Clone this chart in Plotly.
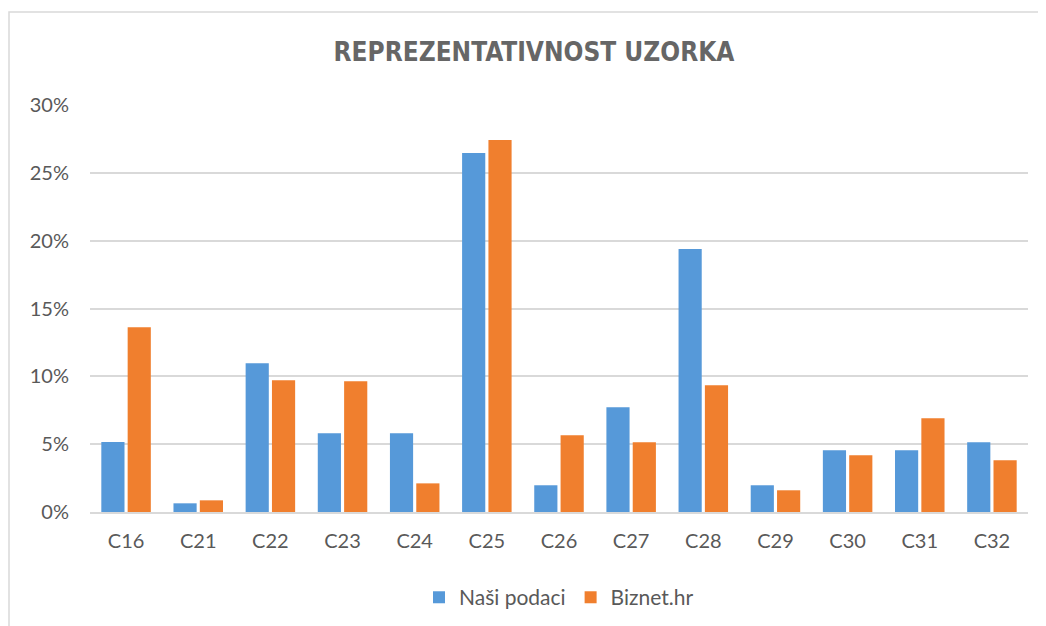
import plotly.graph_objects as go

categories = ["C16", "C21", "C22", "C23", "C24", "C25", "C26", "C27", "C28", "C29", "C30", "C31", "C32"]
nasi_podaci = [0.0516, 0.0064, 0.1097, 0.0580, 0.0580, 0.2646, 0.0197, 0.0772, 0.1938, 0.0197, 0.0455, 0.0455, 0.0514]
biznet_hr = [0.1362, 0.0086, 0.0971, 0.0964, 0.0211, 0.2742, 0.0566, 0.0514, 0.0934, 0.0160, 0.0418, 0.0691, 0.0381]
y_ticks = [0, 0.05, 0.10, 0.15, 0.20, 0.25, 0.30]

BLUE = "#5699d9"
ORANGE = "#f07f2e"
GREY = "#595959"
FONT = "Lato"

fig = go.Figure()
fig.add_trace(go.Bar(x=categories, y=nasi_podaci, name="Naši podaci", marker=dict(color=BLUE, line=dict(width=0))))
fig.add_trace(go.Bar(x=categories, y=biznet_hr, name="Biznet.hr", marker=dict(color=ORANGE, line=dict(width=0))))

# page body adds ~8px offset, margins compensate for it
fig.update_layout(
    width=1046, height=626,
    paper_bgcolor="white", plot_bgcolor="white",
    margin=dict(l=82, r=26, t=97, b=122),
    barmode="group", bargap=0.27, bargroupgap=0.12,
    font=dict(family=FONT, color=GREY, size=20),
    title=dict(text="<b>REPREZENTATIVNOST UZORKA</b>", x=526 / 1046, xanchor="center",
               y=1 - 44 / 626, yanchor="middle",
               font=dict(family="DejaVu Sans Condensed, Lato", size=26, color="#666666")),
    legend=dict(orientation="h", x=0.5, xanchor="center", y=-0.16, yanchor="top",
                font=dict(size=21, color=GREY), itemwidth=30, traceorder="normal"),
    showlegend=True,
)
fig.update_yaxes(range=[0, 0.30], tickvals=y_ticks, tickformat=".0%",
                 showgrid=True, gridcolor="#d9d9d9", gridwidth=1.5,
                 zeroline=False, ticks="", ticklabelstandoff=20,
                 tickfont=dict(size=20, color=GREY))
fig.update_xaxes(showline=True, linecolor="#d9d9d9", linewidth=1.5, ticks="",
                 tickfont=dict(size=20, color=GREY), ticklabelstandoff=10)

# outer chart border like the original
fig.add_shape(type="rect", xref="paper", yref="paper",
              x0=-81 / 938, x1=1.05, y0=-0.4, y1=1 + 93 / 407,
              line=dict(color="#d9d9d9", width=1.5), fillcolor="rgba(0,0,0,0)", layer="below")

fig.write_html("out.html")
